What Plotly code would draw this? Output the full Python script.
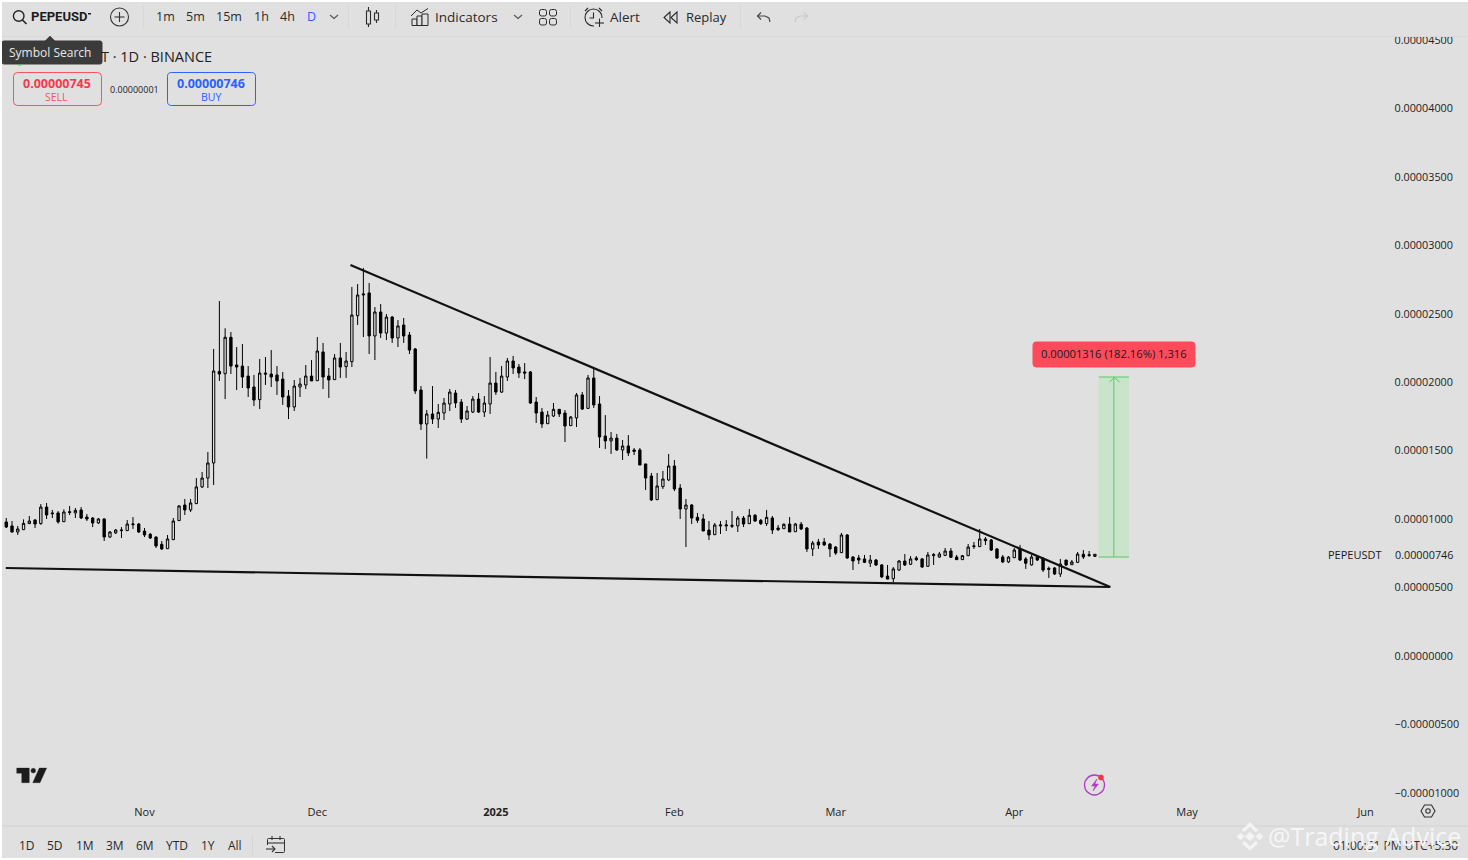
import pandas as pd
import plotly.graph_objects as go

W, H = 1468, 860
BG = "#e0e0e0"
INK = "#2a2a2a"
FONT = "Open Sans"

# daily PEPEUSDT candles, prices in units of 0.00000001
first_day = "2024-10-08"
opens = [
    979, 950, 906, 923, 967, 993, 967, 1088, 1045, 1045,
    981, 1054, 1045, 1067, 1015, 1008, 972, 1001, 869, 899,
    916, 916, 959, 964, 913, 889, 869, 816, 784, 850,
    989, 1103, 1067, 1113, 1235, 1300, 1410, 2079, 2062, 2328,
    2126, 2118, 2045, 1965, 1873, 2067, 2060, 2053, 2023, 1899,
    1819, 1965, 1980, 2045, 2011, 2221, 2045, 2019, 2177, 2114,
    2150, 2486, 2637, 2652, 2338, 2513, 2359, 2476, 2323, 2418,
    2345, 2243, 1943, 1695, 1768, 1731, 1775, 1841, 1921, 1855,
    1731, 1782, 1877, 1782, 1841, 1994, 1928, 2038, 2155, 2111,
    2075, 2075, 1855, 1782, 1697, 1753, 1802, 1775, 1683, 1739,
    1907, 1809, 2031, 1841, 1607, 1571, 1592, 1505, 1534, 1505,
    1505, 1403, 1315, 1142, 1237, 1286, 1388, 1227, 1074, 1103,
    1013, 1001, 920, 886, 950, 950, 947, 950, 1008, 967,
    1028, 991, 967, 1008, 935, 930, 964, 908, 962, 935,
    782, 833, 833, 818, 796, 755, 884, 723, 716, 709,
    679, 701, 665, 584, 565, 628, 694, 670, 716, 709,
    655, 733, 723, 735, 767, 723, 704, 733, 799, 799,
    855, 847, 782, 723, 687, 718, 782, 709, 665, 723,
    709, 640, 643, 599, 701, 667, 684, 743, 733, 728,
]
highs = [
    1008, 986, 950, 998, 1023, 1001, 1110, 1118, 1067, 1059,
    1071, 1096, 1081, 1088, 1037, 1015, 1008, 1006, 913, 928,
    942, 993, 1015, 972, 935, 899, 874, 840, 884, 1008,
    1103, 1147, 1147, 1300, 1344, 1490, 2243, 2593, 2394, 2367,
    2257, 2279, 2118, 2053, 2170, 2184, 2235, 2118, 2075, 1943,
    2016, 2031, 2126, 2162, 2330, 2287, 2104, 2206, 2287, 2221,
    2696, 2717, 2834, 2725, 2549, 2571, 2498, 2484, 2454, 2469,
    2367, 2250, 1972, 1797, 1972, 1841, 1885, 1950, 1943, 1877,
    1826, 1899, 1921, 1899, 2184, 2075, 2118, 2177, 2192, 2133,
    2140, 2082, 1892, 1812, 1790, 1848, 1804, 1797, 1753, 1921,
    1928, 2053, 2104, 1899, 1760, 1636, 1622, 1578, 1614, 1519,
    1519, 1403, 1337, 1337, 1352, 1476, 1432, 1256, 1147, 1110,
    1045, 1037, 986, 972, 986, 993, 1059, 1023, 1023, 1074,
    1037, 1001, 1067, 1023, 957, 969, 1015, 972, 979, 942,
    840, 855, 862, 825, 804, 899, 891, 730, 738, 738,
    738, 709, 672, 665, 650, 701, 745, 730, 730, 716,
    760, 752, 760, 789, 789, 738, 738, 818, 833, 928,
    869, 855, 789, 738, 730, 789, 811, 723, 738, 738,
    723, 653, 650, 709, 701, 701, 760, 774, 767, 745,
]
lows = [
    935, 901, 884, 920, 964, 935, 959, 1001, 1008, 967,
    979, 1030, 1008, 1001, 986, 942, 964, 840, 862, 891,
    862, 913, 928, 899, 869, 855, 789, 774, 782, 847,
    986, 1030, 1052, 1110, 1227, 1227, 1249, 2009, 1877, 2060,
    1943, 1958, 1892, 1826, 1804, 1980, 1965, 1907, 1834, 1731,
    1790, 1892, 1950, 2009, 2009, 1950, 1885, 2016, 2031, 2031,
    2111, 2418, 2330, 2206, 2162, 2323, 2308, 2287, 2257, 2287,
    2206, 1914, 1651, 1442, 1695, 1666, 1724, 1790, 1812, 1702,
    1724, 1775, 1775, 1746, 1768, 1907, 1921, 2009, 2060, 2031,
    2023, 1841, 1702, 1666, 1695, 1746, 1746, 1563, 1680, 1673,
    1797, 1804, 1812, 1519, 1512, 1476, 1498, 1432, 1461, 1468,
    1395, 1213, 1132, 1140, 1220, 1278, 1205, 1001, 796, 964,
    972, 913, 847, 884, 891, 913, 935, 906, 942, 964,
    979, 957, 950, 891, 913, 928, 906, 906, 920, 760,
    730, 782, 804, 723, 738, 752, 709, 628, 672, 679,
    650, 657, 570, 562, 538, 621, 657, 665, 694, 643,
    653, 665, 716, 730, 716, 701, 701, 730, 782, 796,
    811, 767, 709, 679, 679, 716, 694, 636, 660, 694,
    614, 570, 592, 577, 657, 665, 679, 709, 726, 723,
]
closes = [
    942, 906, 928, 969, 986, 964, 1088, 1030, 1040, 979,
    1052, 1049, 1064, 1008, 1001, 972, 1001, 869, 906, 920,
    920, 964, 964, 906, 884, 862, 804, 782, 855, 986,
    1096, 1067, 1118, 1235, 1300, 1410, 2082, 2060, 2328, 2118,
    2111, 2038, 1958, 1870, 2067, 2060, 2038, 2009, 1892, 1819,
    1972, 1987, 2045, 2009, 2228, 2038, 2016, 2177, 2111, 2155,
    2491, 2637, 2644, 2338, 2513, 2359, 2476, 2323, 2411, 2338,
    2235, 1936, 1695, 1768, 1731, 1780, 1848, 1928, 1848, 1731,
    1790, 1877, 1782, 1848, 1994, 1928, 2045, 2155, 2104, 2067,
    2067, 1848, 1775, 1695, 1760, 1802, 1768, 1680, 1746, 1907,
    1804, 2031, 1834, 1600, 1571, 1592, 1505, 1534, 1483, 1495,
    1395, 1300, 1140, 1242, 1293, 1388, 1220, 1074, 1103, 1008,
    991, 913, 884, 957, 957, 957, 954, 1008, 964, 1028,
    986, 967, 1013, 920, 923, 962, 906, 964, 928, 782,
    825, 811, 811, 782, 752, 884, 716, 694, 701, 684,
    701, 665, 577, 562, 636, 694, 665, 709, 704, 650,
    738, 740, 745, 767, 721, 704, 733, 796, 804, 855,
    842, 774, 716, 687, 723, 774, 701, 677, 723, 701,
    628, 633, 599, 672, 665, 687, 745, 723, 740, 743,
]

# drawn trend lines
wedge_top_days = ["2024-12-06 18:00", "2025-04-17 16:00"]
wedge_top_vals = [2856, 504]
wedge_low_days = ["2024-10-07 22:00", "2025-04-17 16:00"]
wedge_low_vals = [643, 504]

# price range tool
range_days = ["2025-04-15 16:00", "2025-04-20 22:00"]
range_vals = [723, 2038]
range_mid_day = "2025-04-18 07:00"
range_label = "0.00001316 (182.16%) 1,316"

last_price = "0.00000746"
sell_price = "0.00000745"
buy_price = "0.00000746"
spread = "0.00000001"

month_days = ["2024-11-01", "2024-12-01", "2025-01-01", "2025-02-01",
              "2025-03-01", "2025-04-01", "2025-05-01", "2025-06-01"]
month_labels = ["Nov", "Dec", "<b>2025</b>", "Feb", "Mar", "Apr", "May", "Jun"]

intervals = ["1m", "5m", "15m", "1h", "4h", "D"]
interval_x = [165, 195, 229, 261, 287, 311]
spans = ["1D", "5D", "1M", "3M", "6M", "YTD", "1Y", "All"]
span_x = [27, 55, 85, 115, 145, 177, 208, 235]

E8 = 1e-8
AXIS_X = 1393.5
days = pd.date_range(first_day, periods=len(opens), freq="D")


def scaled(vals):
    return [v * E8 for v in vals]


def px(x):
    return x / W


def py(y):
    return 1 - y / H


def day_at(x):
    return pd.Timestamp("2024-11-01") + pd.Timedelta(days=(x - 144.5) / 5.76)


fig = go.Figure()

fig.add_trace(go.Candlestick(
    x=days, open=scaled(opens), high=scaled(highs), low=scaled(lows), close=scaled(closes),
    increasing=dict(line=dict(color="black", width=1), fillcolor=BG),
    decreasing=dict(line=dict(color="black", width=1), fillcolor="black"),
    whiskerwidth=0,
    hoverinfo="skip",
))
fig.add_trace(go.Scatter(x=wedge_top_days, y=scaled(wedge_top_vals), mode="lines",
                         line=dict(color="#111111", width=2.2), hoverinfo="skip"))
fig.add_trace(go.Scatter(x=wedge_low_days, y=scaled(wedge_low_vals), mode="lines",
                         line=dict(color="#111111", width=2.2), hoverinfo="skip"))

shapes = []
notes = []


def rect(x0, y0, x1, y1, fill, line=None, width=1):
    shapes.append(dict(type="rect", xref="paper", yref="paper", x0=px(x0), y0=py(y0), x1=px(x1), y1=py(y1),
                       fillcolor=fill, line=dict(color=line or fill, width=width if line else 0), layer="above"))


def seg(points, color=INK, width=1.1, fill=None, close=False):
    path = "M " + " L ".join(f"{px(x):.5f},{py(y):.5f}" for x, y in points)
    if close:
        path += " Z"
    shapes.append(dict(type="path", xref="paper", yref="paper", path=path, fillcolor=fill,
                       line=dict(color=color, width=width), layer="above"))


def circle(cx, cy, r, color=INK, width=1.1, fill=None):
    shapes.append(dict(type="circle", xref="paper", yref="paper", x0=px(cx - r), y0=py(cy + r),
                       x1=px(cx + r), y1=py(cy - r), fillcolor=fill,
                       line=dict(color=color, width=width), layer="above"))


def round_box(x0, y0, x1, y1, r, color, fill=None, width=1.0):
    p = lambda x, y: f"{px(x):.5f},{py(y):.5f}"
    path = (f"M {p(x0 + r, y0)} L {p(x1 - r, y0)} Q {p(x1, y0)} {p(x1, y0 + r)} L {p(x1, y1 - r)} "
            f"Q {p(x1, y1)} {p(x1 - r, y1)} L {p(x0 + r, y1)} Q {p(x0, y1)} {p(x0, y1 - r)} "
            f"L {p(x0, y0 + r)} Q {p(x0, y0)} {p(x0 + r, y0)} Z")
    shapes.append(dict(type="path", xref="paper", yref="paper", path=path, fillcolor=fill,
                       line=dict(color=color, width=width), layer="above"))


def label(text, x, y, size=12, color=INK, anchor="center", family=FONT):
    notes.append(dict(text=text, xref="paper", yref="paper", x=px(x), y=py(y), xanchor=anchor, yanchor="middle",
                      showarrow=False, font=dict(size=size, color=color, family=family),
                      borderpad=0, borderwidth=0))


# price range tool (data coordinates)
shapes.append(dict(type="rect", xref="x", yref="y", x0=range_days[0], x1=range_days[1],
                   y0=range_vals[0] * E8, y1=range_vals[1] * E8, fillcolor="#c8e4ca",
                   line=dict(width=0), layer="below"))
for v in range_vals:
    shapes.append(dict(type="line", xref="x", yref="y", x0=range_days[0], x1=range_days[1],
                       y0=v * E8, y1=v * E8, line=dict(color="#5cc862", width=1)))
shapes.append(dict(type="line", xref="x", yref="y", x0=range_mid_day, x1=range_mid_day,
                   y0=range_vals[0] * E8, y1=range_vals[1] * E8, line=dict(color="#5cc862", width=1)))
seg([(1109.5, 382), (1114.5, 377.5), (1119.5, 382)], color="#5cc862", width=1)
round_box(1033, 342, 1195, 367, 3, "#fd4b5c", fill="#fd4b5c")
label(range_label, 1114, 354, size=11.2, color="#1a1a1a")

label("PEPEUSDT", 1355, 554, size=11, color="#1a1a1a")
label(last_price, 1394.5, 554, size=10.8, color="#1a1a1a", anchor="left")

# toolbar cover and separators
rect(0, 0, W, 36, BG)
rect(0, 36, W, 40 - 3, "#d9d9d9")
for x in [143, 348, 395, 570, 740]:
    rect(x, 6, x + 1, 29, "#d8d8d8")

# search + symbol
circle(18.7, 16, 5.3, color="#222222", width=1.4)
seg([(22.5, 20), (26.5, 24)], color="#222222", width=1.6)
label("<b>PEPEUSD</b>", 31, 17, size=13, color="#1c1c1c", anchor="left", family="Roboto")
rect(88, 13, 91, 14.5, "#1c1c1c")
circle(119.5, 17, 9, color="#333333")
seg([(119.5, 12), (119.5, 22)], color="#333333")
seg([(114.5, 17), (124.5, 17)], color="#333333")

for t, x in zip(intervals, interval_x):
    label(t, x, 17, size=12.5, color="#2962ff" if t == "D" else INK)
seg([(330, 15), (334, 18.5), (338, 15)], color="#555555")

# candle style icon
seg([(368.5, 7), (368.5, 11)]); seg([(368.5, 24), (368.5, 27)])
rect(366.5, 11, 370.5, 24, BG, line=INK, width=1.1)
seg([(376.5, 10), (376.5, 13)]); seg([(376.5, 20), (376.5, 23)])
rect(374.5, 13, 378.5, 20, BG, line=INK, width=1.1)

# indicators icon
rect(412, 19, 417, 25.5, BG, line=INK, width=1)
rect(417, 16, 422, 25.5, BG, line=INK, width=1)
rect(422, 14, 428, 25.5, BG, line=INK, width=1)
seg([(411, 16), (417, 10), (421, 13), (428, 8.5)], width=1)
label("Indicators", 435, 17, size=13.5, anchor="left")
seg([(514, 15), (518, 18.5), (522, 15)], color="#555555")

# layouts icon
for bx, by in [(539.5, 9.5), (549.5, 9.5), (539.5, 18.5), (549.5, 18.5)]:
    round_box(bx, by, bx + 7, by + 6.5, 2, INK)

# alert icon
circle(593.5, 17.5, 8.5)
seg([(593.5, 12.5), (593.5, 18), (589.5, 18)])
seg([(585, 11), (588, 8)]); seg([(599, 8), (602, 11)])
rect(594, 18, 605, 28, BG)
seg([(599.5, 18.5), (599.5, 27)]); seg([(595, 23), (604, 23)])
label("Alert", 610, 17, size=13.5, anchor="left")

# replay icon
seg([(670, 12), (664, 17.5), (670, 23)], close=True)
seg([(677, 12), (671, 17.5), (677, 23)], close=True)
label("Replay", 686, 17, size=13, anchor="left")

# undo / redo
seg([(761, 12.5), (757.5, 16), (761, 19.5)], color="#444444")
seg([(757.5, 16), (765, 16), (769, 18), (770, 22)], color="#444444")
seg([(804, 12.5), (807.5, 16), (804, 19.5)], color="#c9c9c9")
seg([(807.5, 16), (800, 16), (796, 18), (795, 22)], color="#c9c9c9")

# chart title, tooltip over it
label("T · 1D · BINANCE", 101, 56.5, size=14.5, color="#222222", anchor="left")
seg([(45, 41), (50, 36), (55, 41)], color="#3b3b3b", fill="#3b3b3b", close=True, width=0.5)
round_box(2, 41, 102, 64, 2, "#3b3b3b", fill="#3b3b3b")
label("Symbol Search", 50, 52.5, size=12, color="#e8e8e8")
rect(18, 64, 21, 65.5, "#58b65c")

# sell / buy boxes
round_box(13.5, 72.5, 101.5, 105.5, 4, "#f7525f")
label("<b>" + sell_price + "</b>", 57, 83, size=12.5, color="#f7394c")
label("SELL", 57, 97, size=10.5, color="#f7525f")
label(spread, 134, 89.5, size=9, color="#1a1a1a")
round_box(167.5, 72.5, 255.5, 105.5, 4, "#2962ff")
label("<b>" + buy_price + "</b>", 211, 83, size=12.5, color="#2962ff")
label("BUY", 211, 97, size=10.5, color="#2962ff")

# TradingView logo
seg([(16.7, 768), (29.3, 768), (29.3, 782.7), (21.7, 782.7), (21.7, 773.3), (16.7, 773.3)],
    color="#1c1c1c", fill="#1c1c1c", close=True, width=0.3)
circle(33.3, 770.7, 2.4, color="#1c1c1c", fill="#1c1c1c", width=0.3)
seg([(39.3, 768), (46.7, 768), (40, 782.7), (32.7, 782.7)], color="#1c1c1c", fill="#1c1c1c", close=True, width=0.3)

# news bolt icon
circle(1094.5, 785, 10, color="#b03cc8", width=1.3)
seg([(1097, 779), (1091.5, 786), (1095, 786), (1093, 791), (1098.5, 784), (1095, 784)],
    color="#b03cc8", fill="#b03cc8", close=True, width=0.5)
circle(1101, 777.5, 2.7, color="#f23645", fill="#f23645", width=0.3)

# settings hexagon
seg([(1421, 811), (1424.5, 805), (1431.5, 805), (1435, 811), (1431.5, 817), (1424.5, 817)], color="#333333", close=True)
circle(1428, 811, 2.2, color="#333333")

# bottom bar
rect(0, 825, W, 827, "#d9d9d9")
for t, x in zip(spans, span_x):
    label(t, x, 845, size=12)
rect(252, 835, 253, 855, "#d6d6d6")
round_box(267.5, 838.5, 284.5, 852.5, 1, "#333333")
rect(265, 845, 275, 853.5, BG)
seg([(267.5, 843), (284.5, 843)], color="#333333")
seg([(272, 836), (272, 840)], color="#333333"); seg([(280, 836), (280, 840)], color="#333333")
seg([(266, 849), (275, 849)], color="#333333")
seg([(272, 846), (275, 849), (272, 852)], color="#333333")

label("01:00:51 PM UTC+5:30", 1458, 845, size=12, color="#333333", anchor="right")

# watermark
MARK = "#f4f4f4"
seg([(1243, 831), (1250, 824.5), (1257, 831)], color=MARK, width=3.2)
seg([(1243, 842), (1250, 848.5), (1257, 842)], color=MARK, width=3.2)
for cx, r in [(1250, 4.5), (1240.5, 3.5), (1259.5, 3.5)]:
    seg([(cx - r, 836.5), (cx, 836.5 - r), (cx + r, 836.5), (cx, 836.5 + r)], color=MARK, fill=MARK, close=True, width=0.5)
label("@Trading Advice", 1268, 836, size=25, color="#f6f6f6", anchor="left")

# screenshot edge
rect(0, 0, W, 2, "white")
rect(0, 0, 2, H, "white")
rect(0, 858, W, H, "white")

fig.update_layout(
    width=W, height=H,
    margin=dict(l=0, r=0, t=0, b=0, pad=0, autoexpand=False),
    paper_bgcolor=BG, plot_bgcolor=BG,
    showlegend=False,
    boxgap=0.42,
    shapes=shapes, annotations=notes,
    font=dict(family=FONT, color=INK),
)
fig.update_xaxes(
    domain=[0, px(AXIS_X)],
    range=[day_at(0), day_at(AXIS_X)],
    rangeslider_visible=False,
    automargin=False,
    showgrid=False, zeroline=False, showline=False,
    ticks="outside", ticklen=1, tickcolor="rgba(0,0,0,0)",
    tickmode="array", tickvals=month_days, ticktext=month_labels,
    tickfont=dict(size=11, color="#222222"),
)
fig.update_yaxes(
    domain=[py(800.5), py(37.5)],
    range=[(656 - 800.5) * 7.305 * E8, (656 - 37.5) * 7.305 * E8],
    side="right",
    automargin=False,
    showgrid=False, zeroline=False, showline=False,
    ticks="",
    tick0=0, dtick=5e-6, tickformat=".8f",
    tickfont=dict(size=10.8, color="#222222"),
)

# the chart div is pinned to the window corner so the page has no offset
pin = ("var d=document.querySelector('.plotly-graph-div');"
       "d.style.position='fixed';d.style.left='0';d.style.top='0';"
       "document.body.style.margin='0';document.body.style.overflow='hidden';")
fig.write_html("out.html", config=dict(displayModeBar=False), post_script=pin)
